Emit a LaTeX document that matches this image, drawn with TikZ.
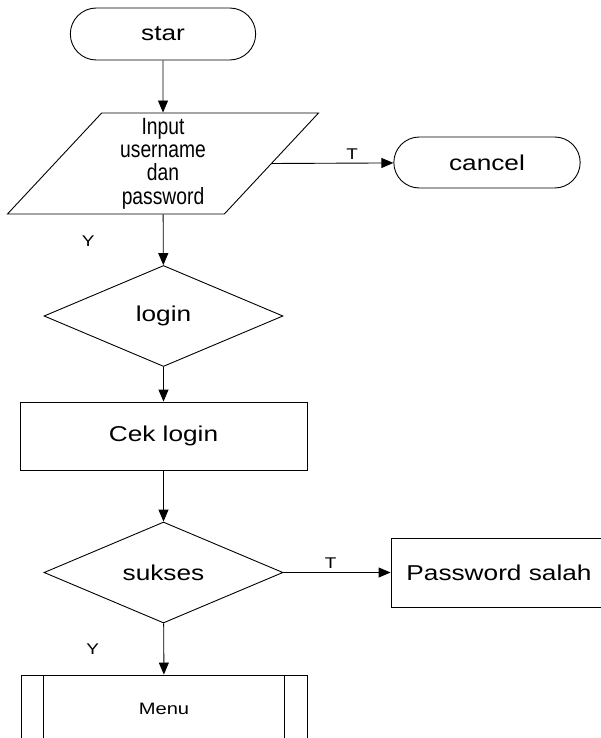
\documentclass[tikz,border=0pt]{standalone}
\usepackage{fontspec}
\setmainfont{Liberation Sans}
\newfontfamily\widefont[FakeStretch=1.22]{Liberation Sans}
\newfontfamily\narrowfont[FakeStretch=0.82]{Liberation Sans}
\usetikzlibrary{shapes.geometric,shapes.misc,arrows.meta,positioning}

\begin{document}
\begin{tikzpicture}[x=1pt, y=-1pt, line width=0.9pt]
\tikzstyle{terminal} = [rounded rectangle, draw, minimum width=192pt, minimum height=52pt, font=\widefont\fontsize{21.5}{26}\selectfont]
\tikzstyle{io} = [trapezium, trapezium left angle=54, trapezium right angle=126, trapezium stretches=true, draw, minimum width=312pt, minimum height=101pt, align=center, font=\narrowfont\fontsize{23.5}{23.3}\selectfont]
\tikzstyle{decision} = [diamond, draw, minimum width=239pt, minimum height=101pt, aspect=2.34, font=\widefont\fontsize{21.5}{26}\selectfont]
\tikzstyle{process} = [rectangle, draw, minimum width=287pt, minimum height=68pt, font=\widefont\fontsize{21.5}{26}\selectfont]
\tikzstyle{subproc} = [process, minimum width=286pt, font=\widefont\fontsize{16.5}{20}\selectfont]
\tikzstyle{arrow} = [->, >={Triangle[length=12pt,width=10pt]}]
\tikzstyle{yn} = [font=\widefont\fontsize{15.5}{18}\selectfont]

\useasboundingbox (0,0) rectangle (601,738);
\clip (0,0) rectangle (601,738);

% main column
\node (Star) [terminal] at (163,34) {star};
\node (Input) [io] at (163,163.5) {Input\\username\\dan\\password};
\node (Login) [decision] at (163.5,316) {login};
\node (CekLogin) [process] at (163.5,436) {Cek login};
\node (Sukses) [decision] at (163.5,572.5) {sukses};
\node (Menu) [subproc] at (164,709) {Menu};
\draw ([xshift=23pt]Menu.north west) -- ([xshift=23pt]Menu.south west);
\draw ([xshift=-23pt]Menu.north east) -- ([xshift=-23pt]Menu.south east);

% right branches
\node (Cancel) [terminal, minimum width=193pt, minimum height=51pt] at (487,162.5) {cancel};
\node (Salah) [process, minimum width=216pt, minimum height=69pt] at (499,572.5) {Password salah};

\draw [arrow] (Star) -- (Input);
\draw [arrow] (Input) -- node[yn, pos=0.52, xshift=-75pt] {Y} (Login);
\draw [arrow] (Input.east) -- node[yn, pos=0.66, above] {T} (Cancel);
\draw [arrow] (Login) -- (CekLogin);
\draw [arrow] (CekLogin) -- (Sukses);
\draw [arrow] (Sukses) -- node[yn, pos=0.5, xshift=-71pt] {Y} (Menu);
\draw [arrow] (Sukses) -- node[yn, pos=0.44, above] {T} (Salah);
\end{tikzpicture}
\end{document}
